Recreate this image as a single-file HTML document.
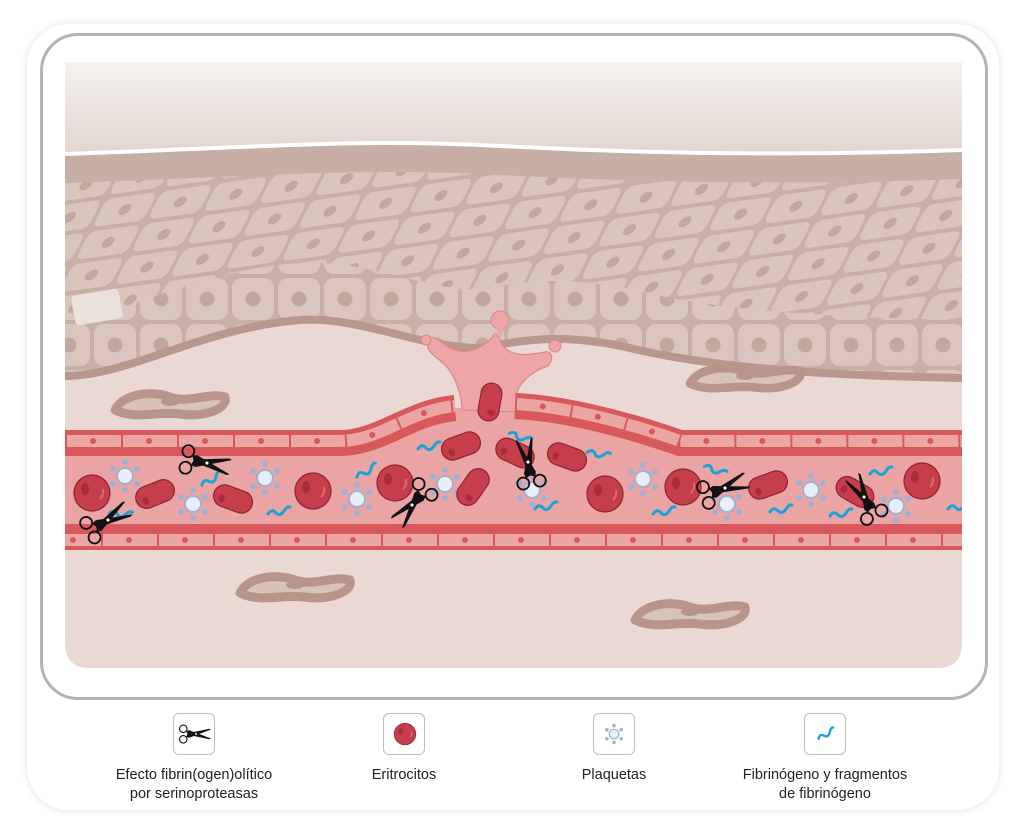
<!DOCTYPE html>
<html><head><meta charset="utf-8"><style>
html,body{margin:0;padding:0;background:#fff;}
body{width:1024px;height:834px;position:relative;overflow:hidden;font-family:"Liberation Sans",sans-serif;}
.card{position:absolute;left:27px;top:24px;width:972px;height:786px;background:#fff;border-radius:42px;box-shadow:0 0 8px rgba(0,0,0,0.12);}
.inner{position:absolute;left:40px;top:33px;width:942px;height:661px;border:3px solid #b3b3b3;border-radius:38px;}
.lg{position:absolute;top:713px;width:40px;height:40px;border:1px solid #bdbdbd;border-radius:6px;background:#fff;}
.lt{position:absolute;top:766px;width:240px;text-align:center;font-size:14.5px;line-height:19px;color:#222;}
</style></head><body>
<div class="card"></div>
<div class="inner"></div>
<svg width="1024" height="834" style="position:absolute;left:0;top:0">
<defs>
<linearGradient id="sky" x1="0" y1="0" x2="0" y2="1"><stop offset="0" stop-color="#f6f2f0"/><stop offset="1" stop-color="#e2d4cf"/></linearGradient>
<clipPath id="ill"><path d="M65,62 L962,62 L962,643 Q962,668 937,668 L90,668 Q65,668 65,643 Z"/></clipPath>
<pattern id="up" width="56" height="30" patternUnits="userSpaceOnUse" patternTransform="rotate(-8) skewX(-35)">
<rect width="56" height="30" fill="#c8b0a7"/>
<rect x="2" y="2" width="52" height="26" rx="7" fill="#d9c5bc"/>
<ellipse cx="28" cy="15" rx="6" ry="5" fill="#c2a79d"/>
</pattern>
<pattern id="low" width="46" height="46" patternUnits="userSpaceOnUse">
<rect width="46" height="46" fill="#c8b0a7"/>
<rect x="2" y="2" width="42" height="42" rx="10" fill="#dac6be"/>
<circle cx="23" cy="23" r="7.5" fill="#c2a79d"/>
</pattern>
<clipPath id="epi"><path d="M65,378 C130,378 200,330 300,322 C360,318 420,350 480,350 C530,340 570,336 630,350 C720,372 850,378 962,380 L962,150 C800,156 650,154 500,146 C350,138 250,148 65,154 Z"/></clipPath>
<g id="rbc"><circle r="18" fill="#c63d4b" stroke="#8f2333" stroke-width="1.2"/><ellipse cx="-7" cy="-4" rx="4" ry="6" fill="#a82c3b"/><path d="M8,6 q4,-4 3,-10" stroke="#e06a74" stroke-width="2" fill="none"/></g>
<g id="ov"><rect x="-20" y="-11" width="40" height="22" rx="11" fill="#c63d4b" stroke="#8f2333" stroke-width="1.2"/><ellipse cx="-11" cy="3" rx="3" ry="4" fill="#a82c3b"/></g>
<g id="pl" fill="#9fb0d2"><circle r="8" fill="#e8eef8" stroke="#9fb0d2" stroke-width="2"/><circle cx="0" cy="-14" r="3"/><circle cx="12" cy="-7" r="3"/><circle cx="12" cy="8" r="3"/><circle cx="0" cy="14" r="3"/><circle cx="-12" cy="8" r="3"/><circle cx="-12" cy="-7" r="3"/></g>
<path id="fb" d="M-10,4 q4,-6 8,-1 q4,4 8,-2 q3,-5 6,-4" stroke="#1aa3d9" stroke-width="3" fill="none" stroke-linecap="round"/>
<g id="sc"><circle cx="-17" cy="-7" r="5" stroke="#111" stroke-width="1.5" fill="none"/><circle cx="-17" cy="7" r="5" stroke="#111" stroke-width="1.5" fill="none"/>
<polygon points="-13,-4 -9,-5 20,6 18,7 -11,1" fill="#111"/><polygon points="-13,4 -9,5 20,-6 18,-7 -11,-1" fill="#111"/><circle cx="0" cy="0" r="1.3" fill="#fff"/></g>
<path id="fib" d="M-58,8 C-50,-8 -20,-12 0,-5 C20,2 40,-10 58,-5 C62,5 40,16 10,12 C-15,9 -35,18 -58,8 Z"/>
</defs>
<g clip-path="url(#ill)">
<rect x="65" y="62" width="897" height="606" fill="#ead8d2"/>
<path d="M65,62 L962,62 L962,150 C800,156 650,154 500,146 C350,138 250,148 65,154 Z" fill="url(#sky)"/>
<g clip-path="url(#epi)">
<rect x="60" y="140" width="910" height="260" fill="url(#up)"/>
<path d="M65,350 C130,350 200,302 300,295 C360,291 420,322 480,322 C530,312 570,308 630,322 C720,344 850,350 962,352" stroke="url(#low)" stroke-width="64" fill="none"/>
<path d="M65,168 C250,162 350,152 500,160 C650,168 800,170 962,164" stroke="#c7afa6" stroke-width="30" fill="none"/>
<rect x="73" y="292" width="48" height="30" rx="4" fill="#ece0db" transform="rotate(-10 97 307)"/>
</g>
<path d="M65,154 C250,148 350,138 500,146 C650,154 800,156 962,150" stroke="#fff" stroke-width="4" fill="none"/>
<path d="M65,376 C130,376 200,328 300,320 C360,316 420,348 480,348 C530,338 570,334 630,348 C720,370 850,376 962,378" stroke="#b8978c" stroke-width="8" fill="none"/>
<g fill="#d8c3b9" stroke="#b8958a" stroke-width="9" stroke-linejoin="round">
<use href="#fib" transform="translate(170,402) scale(0.95,1)"/>
<use href="#fib" transform="translate(745,376) scale(0.95,0.95)"/>
<use href="#fib" transform="translate(295,585) scale(0.95,1)"/>
<use href="#fib" transform="translate(690,612) scale(0.95,1)"/>
</g>
<g fill="#b8958a"><ellipse cx="170" cy="402" rx="9" ry="4"/><ellipse cx="745" cy="376" rx="9" ry="4"/><ellipse cx="295" cy="585" rx="9" ry="4"/><ellipse cx="690" cy="612" rx="9" ry="4"/></g>
<!-- lumen -->
<path d="M65,443 L340,443 C380,443 410,412 455,408 L515,406 C560,408 620,422 680,443 L962,443 L962,537 L65,537 Z" fill="#e9a4a3"/>
<!-- splash -->
<path d="M462,410 C462,395 455,375 445,365 C435,355 425,352 428,340 C432,333 440,342 450,348 C465,355 480,350 492,338 C495,330 498,335 502,345 C512,358 530,355 545,352 C552,350 554,360 548,366 C535,370 520,380 516,395 L516,412 Z" fill="#eda6a5" stroke="#e08585" stroke-width="1.2"/>
<circle cx="500" cy="320" r="9" fill="#eda6a5" stroke="#e08585"/><path d="M496,328 L500,340 L504,328" fill="#eda6a5"/>
<circle cx="426" cy="340" r="5" fill="#eda6a5" stroke="#e08585"/>
<circle cx="555" cy="346" r="6" fill="#eda6a5" stroke="#e08585"/>
<!-- walls -->
<g fill="none">
<path d="M65,443 L340,443 C380,443 410,412 455,408 M515,406 C560,408 620,422 680,443 L962,443" stroke="#d9585b" stroke-width="26"/>
<path d="M65,441 L340,441 C380,441 410,410 455,406 M515,404 C560,406 620,420 680,441 L962,441" stroke="#eba5a4" stroke-width="12"/>
<path d="M65,441 L340,441 C380,441 410,410 455,406 M515,404 C560,406 620,420 680,441 L962,441" stroke="#d9585b" stroke-width="12" stroke-dasharray="2 54"/>
<path d="M65,441 L340,441 C380,441 410,410 455,406 M515,404 C560,406 620,420 680,441 L962,441" stroke="#d9585b" stroke-width="6" stroke-linecap="round" stroke-dasharray="0 56" stroke-dashoffset="-28"/>
<path d="M65,537 L962,537" stroke="#d9585b" stroke-width="26"/>
<path d="M65,540 L962,540" stroke="#eba5a4" stroke-width="12"/>
<path d="M65,540 L962,540" stroke="#d9585b" stroke-width="12" stroke-dasharray="2 54" stroke-dashoffset="-36"/>
<path d="M65,540 L962,540" stroke="#d9585b" stroke-width="6" stroke-linecap="round" stroke-dasharray="0 56" stroke-dashoffset="-8"/>
</g>
<!-- fibrinogen -->
<g>
<use href="#fb" transform="translate(365,470) rotate(-20)"/>
<use href="#fb" transform="translate(278,510)"/>
<use href="#fb" transform="translate(428,445)"/>
<use href="#fb" transform="translate(210,478) rotate(-20)"/>
<use href="#fb" transform="translate(520,435) rotate(30)"/>
<use href="#fb" transform="translate(598,452) rotate(20)"/>
<use href="#fb" transform="translate(545,505)"/>
<use href="#fb" transform="translate(663,510)"/>
<use href="#fb" transform="translate(715,468) rotate(30)"/>
<use href="#fb" transform="translate(780,508)"/>
<use href="#fb" transform="translate(880,470)"/>
<use href="#fb" transform="translate(840,512)"/>
<use href="#fb" transform="translate(958,505)"/>
<use href="#fb" transform="translate(120,512) rotate(15)"/>
</g>
<!-- platelets -->
<use href="#pl" x="125" y="476"/><use href="#pl" x="193" y="504"/><use href="#pl" x="265" y="478"/><use href="#pl" x="357" y="499"/><use href="#pl" x="445" y="484"/><use href="#pl" x="532" y="490"/><use href="#pl" x="643" y="479"/><use href="#pl" x="727" y="504"/><use href="#pl" x="811" y="490"/><use href="#pl" x="896" y="506"/>
<!-- rbcs -->
<use href="#rbc" x="92" y="493"/><use href="#rbc" x="313" y="491"/><use href="#rbc" x="395" y="483"/><use href="#rbc" x="605" y="494"/><use href="#rbc" x="683" y="487"/><use href="#rbc" x="922" y="481"/>
<use href="#ov" transform="translate(155,494) rotate(-22)"/>
<use href="#ov" transform="translate(233,499) rotate(20)"/>
<use href="#ov" transform="translate(473,487) rotate(-55)"/>
<use href="#ov" transform="translate(461,446) rotate(-20)"/>
<use href="#ov" transform="translate(490,402) rotate(-80) scale(0.95)"/>
<use href="#ov" transform="translate(515,453) rotate(25)"/>
<use href="#ov" transform="translate(567,457) rotate(20)"/>
<use href="#ov" transform="translate(768,485) rotate(-20)"/>
<use href="#ov" transform="translate(855,492) rotate(30)"/>
<!-- scissors -->
<use href="#sc" transform="translate(108,520) rotate(-30) scale(1.2)"/>
<use href="#sc" transform="translate(207,463) rotate(10) scale(1.2)"/>
<use href="#sc" transform="translate(412,505) rotate(130) scale(1.2)"/>
<use href="#sc" transform="translate(528,462) rotate(-100) scale(1.2)"/>
<use href="#sc" transform="translate(725,488) rotate(-20) scale(1.2)"/>
<use href="#sc" transform="translate(864,497) rotate(-120) scale(1.2)"/>
</g>
</svg>
<div class="lg" style="left:173px"></div>
<div class="lg" style="left:383px"></div>
<div class="lg" style="left:593px"></div>
<div class="lg" style="left:804px"></div>
<svg width="1024" height="834" style="position:absolute;left:0;top:0">
<use href="#sc" transform="translate(196,734) scale(0.75)"/>
<g transform="translate(405,734) scale(0.6)"><use href="#rbc"/></g>
<g transform="translate(614,734) scale(0.6)"><use href="#pl"/></g>
<g transform="translate(825,733) scale(0.8) rotate(-20)"><use href="#fb"/></g>
</svg>
<div class="lt" style="left:74px">Efecto fibrin(ogen)olítico<br>por serinoproteasas</div>
<div class="lt" style="left:284px">Eritrocitos</div>
<div class="lt" style="left:494px">Plaquetas</div>
<div class="lt" style="left:705px">Fibrinógeno y fragmentos<br>de fibrinógeno</div>
</body></html>
